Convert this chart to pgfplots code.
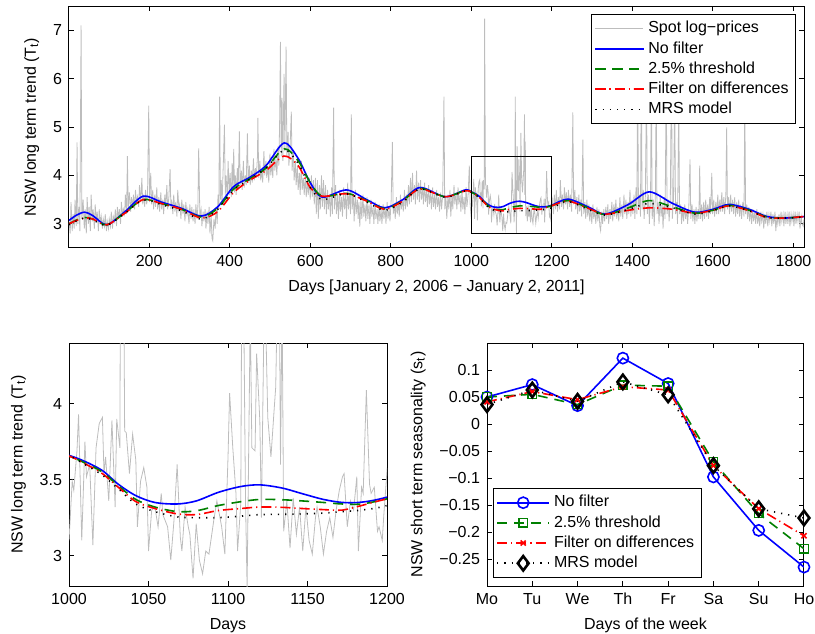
\documentclass[border=0pt]{standalone}
\usepackage{fontspec}
\setmainfont{Liberation Sans}
\usepackage{pgfplots}
\pgfplotsset{compat=1.18}
\usepackage{pgfplotstable}

\definecolor{mblue}{rgb}{0,0,1}
\definecolor{mgreen}{rgb}{0,0.5,0}
\definecolor{mred}{rgb}{1,0,0}
\definecolor{sgray}{rgb}{0.74,0.74,0.74}

% spot log-prices (sampled), days 1..1826
\pgfplotstableread[row sep=\\]{
x y\\
1 3.05\\ 4 2.80\\ 6 3.45\\ 9 2.85\\ 11 3.20\\ 14 2.90\\ 16 3.50\\ 19 2.95\\ 21 4.68\\ 23 3.00\\
26 3.35\\ 28 2.85\\ 31 7.10\\ 33 3.10\\ 36 3.50\\ 39 2.90\\ 41 3.30\\ 44 2.80\\ 46 3.55\\ 49 3.00\\
51 3.35\\ 54 2.85\\ 56 3.60\\ 59 3.05\\ 61 3.30\\ 64 2.90\\ 66 3.40\\ 69 3.05\\ 71 3.25\\ 74 2.85\\
76 3.30\\ 79 3.00\\ 81 3.15\\ 84 2.90\\ 86 3.10\\ 89 2.95\\ 91 3.20\\ 94 2.85\\ 96 3.05\\ 99 2.90\\
101 3.10\\ 104 2.95\\ 106 3.25\\ 109 2.90\\ 111 3.15\\ 114 3.05\\ 116 3.30\\ 119 2.95\\ 121 3.35\\ 124 3.10\\
126 3.30\\ 129 3.00\\ 131 3.45\\ 134 3.15\\ 136 3.30\\ 139 3.20\\ 141 3.60\\ 144 3.20\\ 146 4.40\\ 148 3.30\\
151 3.65\\ 154 3.25\\ 156 3.55\\ 159 3.35\\ 161 3.60\\ 164 3.30\\ 166 3.70\\ 169 3.40\\ 171 3.55\\ 174 3.35\\
176 3.80\\ 179 3.45\\ 182 3.95\\ 184 3.40\\ 186 3.60\\ 189 3.35\\ 191 3.70\\ 194 3.40\\ 196 3.60\\ 199 5.44\\
201 3.45\\ 204 4.05\\ 206 3.40\\ 209 3.70\\ 211 3.30\\ 214 3.60\\ 216 3.35\\ 219 3.75\\ 221 3.30\\ 224 3.55\\
226 3.25\\ 229 3.65\\ 231 3.30\\ 234 3.50\\ 236 3.20\\ 239 3.60\\ 241 3.35\\ 244 3.80\\ 246 3.30\\ 249 3.55\\
252 4.13\\ 254 3.30\\ 256 3.50\\ 259 3.20\\ 261 3.60\\ 264 3.25\\ 266 3.45\\ 269 3.15\\ 271 3.70\\ 274 3.30\\
276 3.40\\ 279 3.10\\ 281 3.50\\ 284 3.20\\ 286 3.40\\ 289 3.05\\ 291 3.45\\ 294 3.20\\ 296 3.30\\ 299 3.00\\
301 3.40\\ 304 3.10\\ 306 3.35\\ 309 3.05\\ 311 3.30\\ 314 3.00\\ 316 3.40\\ 319 3.10\\ 321 3.35\\ 323 4.56\\
326 3.15\\ 329 3.30\\ 331 2.95\\ 334 3.25\\ 336 3.05\\ 339 3.30\\ 341 2.90\\ 344 3.25\\ 346 3.00\\ 349 3.35\\
351 2.80\\ 354 3.20\\ 356 2.70\\ 358 2.65\\ 361 3.10\\ 364 2.90\\ 366 3.35\\ 369 3.00\\ 371 3.60\\ 373 3.30\\
375 5.63\\ 377 3.50\\ 379 3.90\\ 381 3.40\\ 384 4.20\\ 387 5.05\\ 389 3.60\\ 391 4.00\\ 394 3.50\\ 396 4.30\\
399 3.60\\ 401 4.05\\ 404 3.55\\ 406 4.25\\ 408 3.70\\ 410 4.55\\ 412 3.65\\ 414 4.00\\ 416 3.60\\ 419 4.15\\
421 3.70\\ 424 4.91\\ 426 3.80\\ 429 4.10\\ 431 3.70\\ 434 4.30\\ 436 3.75\\ 439 4.00\\ 441 3.80\\ 444 4.87\\
446 3.85\\ 449 4.20\\ 451 3.80\\ 454 4.10\\ 456 3.85\\ 459 4.35\\ 461 3.90\\ 464 4.15\\ 466 3.95\\ 469 4.40\\
470 5.19\\ 472 3.95\\ 475 4.30\\ 477 3.90\\ 480 4.10\\ 482 3.85\\ 485 4.50\\ 487 4.00\\ 490 4.30\\ 492 3.95\\
495 4.20\\ 497 3.85\\ 500 4.45\\ 502 4.00\\ 505 4.25\\ 507 3.95\\ 510 4.55\\ 512 4.10\\ 515 4.35\\ 517 4.00\\
520 4.60\\ 522 4.20\\ 524 5.10\\ 526 6.76\\ 528 4.40\\ 530 5.60\\ 532 4.30\\ 535 6.10\\ 537 4.50\\ 540 6.66\\
542 4.40\\ 545 4.90\\ 547 4.20\\ 550 4.60\\ 553 5.32\\ 555 4.10\\ 558 4.50\\ 560 3.90\\ 563 4.30\\ 565 3.80\\
568 4.20\\ 570 3.70\\ 573 4.05\\ 575 3.60\\ 578 4.30\\ 580 3.70\\ 583 3.95\\ 585 3.60\\ 588 4.00\\ 590 3.55\\
593 3.90\\ 595 3.60\\ 598 3.95\\ 600 3.50\\ 603 4.00\\ 605 3.55\\ 608 3.90\\ 610 3.40\\ 613 3.95\\ 615 3.20\\
618 3.90\\ 620 3.10\\ 623 3.80\\ 625 3.30\\ 628 4.00\\ 630 3.35\\ 633 3.90\\ 635 3.30\\ 638 3.80\\ 640 3.20\\
643 3.70\\ 645 3.30\\ 648 3.60\\ 650 3.15\\ 653 3.75\\ 655 3.20\\ 658 5.40\\ 660 3.30\\ 663 3.80\\ 665 3.20\\
668 3.60\\ 670 3.10\\ 673 3.70\\ 675 3.25\\ 678 3.55\\ 680 3.15\\ 683 3.75\\ 685 3.30\\ 688 3.60\\ 690 3.10\\
693 3.85\\ 695 3.30\\ 698 3.65\\ 700 3.20\\ 702 5.26\\ 704 3.30\\ 707 3.60\\ 709 3.05\\ 712 3.70\\ 714 3.20\\
717 3.50\\ 719 3.10\\ 721 3.45\\ 723 2.94\\ 726 3.50\\ 728 3.10\\ 731 3.60\\ 733 3.15\\ 736 3.40\\ 738 3.05\\
741 3.55\\ 743 3.10\\ 746 3.40\\ 748 3.00\\ 751 3.50\\ 753 3.15\\ 756 3.35\\ 758 3.00\\ 761 3.45\\ 763 3.10\\
766 3.30\\ 768 3.00\\ 771 3.40\\ 773 3.05\\ 776 3.30\\ 778 3.00\\ 781 3.40\\ 783 3.10\\ 786 3.35\\ 788 3.00\\
791 3.45\\ 793 3.10\\ 796 3.30\\ 798 3.05\\ 801 3.50\\ 804 4.69\\ 806 3.20\\ 809 3.40\\ 811 3.10\\ 814 3.55\\
816 3.20\\ 819 3.45\\ 821 3.15\\ 824 3.60\\ 826 3.30\\ 829 3.50\\ 831 3.25\\ 834 3.70\\ 836 3.30\\ 839 3.60\\
841 3.35\\ 844 3.80\\ 846 3.40\\ 849 3.95\\ 851 3.45\\ 854 4.05\\ 856 3.50\\ 859 3.80\\ 861 3.40\\ 864 4.10\\
866 3.50\\ 869 3.85\\ 871 3.45\\ 874 3.90\\ 876 3.50\\ 879 3.75\\ 881 3.40\\ 884 3.85\\ 886 3.45\\ 889 3.70\\
891 3.35\\ 894 3.80\\ 896 3.40\\ 899 3.65\\ 901 3.30\\ 904 3.75\\ 906 3.35\\ 909 3.60\\ 911 3.30\\ 914 3.70\\
916 3.35\\ 919 3.55\\ 921 3.25\\ 924 3.65\\ 926 3.30\\ 929 3.60\\ 932 5.63\\ 934 3.30\\ 937 3.55\\ 939 3.10\\
942 3.60\\ 944 3.30\\ 947 3.70\\ 949 3.15\\ 952 3.60\\ 954 3.30\\ 957 3.80\\ 959 3.40\\ 962 3.65\\ 964 3.30\\
967 3.75\\ 969 3.40\\ 972 3.60\\ 974 3.25\\ 977 3.70\\ 979 3.30\\ 982 3.55\\ 984 3.20\\ 987 3.75\\ 989 3.35\\
992 3.60\\ 995 4.20\\ 997 3.40\\
1000 3.10\\ 1002 3.49\\ 1003 3.43\\ 1005 3.69\\ 1006 3.93\\ 1008 3.10\\ 1010 3.75\\ 1011 3.52\\ 1013 3.60\\ 1015 3.07\\
1017 3.71\\ 1019 3.87\\ 1021 3.91\\ 1022 3.54\\ 1023 3.65\\ 1025 3.36\\ 1027 3.89\\ 1029 3.32\\ 1030 3.90\\ 1032 3.71\\
1033 7.24\\ 1035 3.82\\ 1036 3.81\\ 1038 3.54\\ 1040 3.80\\ 1042 3.63\\ 1043 3.19\\ 1045 3.49\\ 1047 3.58\\ 1049 3.45\\
1050 3.03\\ 1052 3.30\\ 1054 3.32\\ 1056 3.19\\ 1058 3.41\\ 1059 3.27\\ 1062 3.19\\ 1064 2.97\\ 1066 3.23\\ 1068 3.60\\
1070 3.12\\ 1071 3.03\\ 1073 3.32\\ 1075 3.19\\ 1076 3.14\\ 1078 2.85\\ 1080 3.21\\ 1082 2.97\\ 1084 2.88\\ 1086 3.03\\
1088 3.01\\ 1091 3.23\\ 1093 3.36\\ 1096 3.19\\ 1098 3.01\\ 1100 3.65\\ 1101 4.07\\ 1103 3.71\\ 1105 3.41\\ 1106 3.03\\
1108 3.34\\ 1109 5.63\\ 1111 3.36\\ 1112 2.79\\ 1114 4.60\\ 1115 3.71\\ 1117 3.69\\ 1118 4.33\\ 1120 3.89\\ 1121 3.25\\
1123 4.88\\ 1125 3.91\\ 1127 3.65\\ 1129 3.96\\ 1130 4.11\\ 1132 5.26\\ 1133 3.60\\ 1134 4.70\\ 1135 3.16\\ 1137 3.36\\
1139 3.05\\ 1141 3.38\\ 1143 3.14\\ 1145 3.32\\ 1147 3.03\\ 1149 3.32\\ 1151 3.10\\ 1153 3.01\\ 1155 3.25\\ 1156 3.32\\
1158 3.19\\ 1160 3.01\\ 1162 3.16\\ 1164 3.25\\ 1166 3.12\\ 1168 3.30\\ 1170 3.43\\ 1172 3.52\\ 1173 3.54\\ 1175 3.19\\
1177 3.36\\ 1179 3.30\\ 1181 3.52\\ 1182 3.03\\ 1184 3.45\\ 1185 3.41\\ 1187 4.09\\ 1189 3.47\\ 1190 3.41\\ 1192 3.45\\
1194 3.16\\ 1195 3.19\\ 1197 3.10\\ 1198 3.27\\ 1200 3.56\\
1201 3.50\\ 1204 3.20\\ 1206 3.60\\ 1209 3.30\\ 1211 3.70\\ 1214 3.25\\ 1216 3.55\\ 1219 3.30\\ 1221 3.90\\ 1224 3.35\\
1226 3.60\\ 1229 3.30\\ 1231 3.75\\ 1234 3.40\\ 1236 3.65\\ 1239 3.30\\ 1241 3.70\\ 1244 3.35\\ 1246 3.60\\ 1249 3.25\\
1252 5.30\\ 1254 3.40\\ 1257 3.70\\ 1259 3.30\\ 1262 3.55\\ 1264 3.20\\ 1267 3.60\\ 1269 3.25\\ 1272 3.50\\ 1274 3.15\\
1277 4.74\\ 1279 3.20\\ 1282 3.45\\ 1284 3.10\\ 1287 3.50\\ 1289 3.15\\ 1292 3.40\\ 1294 3.05\\ 1297 3.35\\ 1299 3.00\\
1302 3.40\\ 1304 3.10\\ 1307 3.30\\ 1309 3.00\\ 1312 3.35\\ 1314 3.05\\ 1317 3.30\\ 1319 2.95\\ 1321 2.86\\ 1324 3.25\\
1326 3.00\\ 1329 3.30\\ 1331 3.05\\ 1334 3.35\\ 1336 3.10\\ 1339 3.40\\ 1341 3.00\\ 1344 3.30\\ 1346 3.10\\ 1349 3.45\\
1351 3.05\\ 1354 3.40\\ 1356 3.15\\ 1359 3.50\\ 1361 3.10\\ 1364 3.35\\ 1366 3.05\\ 1369 3.55\\ 1371 3.15\\ 1374 3.40\\
1376 3.10\\ 1379 3.60\\ 1381 3.20\\ 1384 3.50\\ 1386 3.10\\ 1389 3.45\\ 1391 3.20\\ 1394 3.70\\ 1396 3.15\\ 1399 3.50\\
1401 3.20\\ 1404 3.60\\ 1406 3.10\\ 1409 3.75\\ 1411 3.20\\ 1413 6.20\\ 1415 3.30\\ 1418 3.60\\ 1420 3.15\\ 1422 6.50\\
1424 3.30\\ 1427 3.70\\ 1429 3.10\\ 1432 3.50\\ 1435 5.90\\ 1437 3.20\\ 1440 3.60\\ 1442 3.00\\ 1445 3.55\\ 1447 6.30\\
1449 3.10\\ 1452 3.50\\ 1454 2.95\\ 1457 3.60\\ 1459 5.80\\ 1461 3.20\\ 1464 3.45\\ 1466 3.00\\ 1469 3.60\\ 1471 3.15\\
1474 3.40\\ 1476 2.90\\ 1479 3.55\\ 1481 3.10\\ 1484 6.00\\ 1486 3.20\\ 1489 3.50\\ 1491 3.05\\ 1494 3.45\\ 1497 6.40\\
1499 3.10\\ 1502 3.50\\ 1505 5.70\\ 1507 3.20\\ 1510 3.45\\ 1512 3.00\\ 1515 5.50\\ 1517 3.20\\ 1520 3.40\\ 1522 3.00\\
1525 3.35\\ 1527 3.05\\ 1530 3.40\\ 1532 3.10\\ 1535 3.30\\ 1537 3.00\\ 1540 3.35\\ 1543 4.33\\ 1545 3.10\\ 1548 3.40\\
1550 3.05\\ 1553 3.30\\ 1555 3.00\\ 1558 3.35\\ 1560 3.05\\ 1563 3.30\\ 1565 3.10\\ 1567 4.20\\ 1569 3.10\\ 1572 3.40\\
1574 3.05\\ 1577 3.45\\ 1579 3.10\\ 1582 3.50\\ 1584 3.15\\ 1587 3.40\\ 1589 3.10\\ 1592 3.55\\ 1594 3.20\\ 1597 4.05\\
1599 3.20\\ 1602 3.50\\ 1604 3.15\\ 1607 3.45\\ 1609 3.20\\ 1612 3.60\\ 1614 3.20\\ 1617 3.50\\ 1619 3.25\\ 1622 3.65\\
1624 3.25\\ 1627 3.55\\ 1629 3.20\\ 1632 3.60\\ 1634 4.99\\ 1636 3.30\\ 1639 3.55\\ 1641 3.20\\ 1644 3.60\\ 1646 3.25\\
1649 3.50\\ 1651 3.20\\ 1654 3.55\\ 1656 3.15\\ 1659 3.45\\ 1661 3.20\\ 1664 3.50\\ 1666 3.15\\ 1669 3.40\\ 1671 3.10\\
1674 3.45\\ 1677 3.15\\ 1679 5.60\\ 1681 3.20\\ 1684 3.40\\ 1686 3.10\\ 1689 3.35\\ 1691 3.05\\ 1694 3.30\\ 1696 3.00\\
1699 3.30\\ 1701 3.05\\ 1704 3.25\\ 1706 3.00\\ 1709 3.30\\ 1711 3.00\\ 1714 3.20\\ 1716 2.95\\ 1719 3.25\\ 1721 3.05\\
1724 3.20\\ 1726 2.90\\ 1729 3.20\\ 1731 3.00\\ 1734 3.25\\ 1736 2.95\\ 1739 3.20\\ 1741 3.05\\ 1744 3.25\\ 1746 2.95\\
1749 3.20\\ 1751 3.00\\ 1754 3.25\\ 1756 2.85\\ 1759 3.15\\ 1761 3.00\\ 1764 3.20\\ 1766 2.95\\ 1769 3.25\\ 1771 3.05\\
1774 3.20\\ 1776 2.95\\ 1779 3.25\\ 1781 3.00\\ 1784 3.20\\ 1786 3.00\\ 1789 3.25\\ 1791 2.95\\ 1794 3.20\\ 1796 3.05\\
1799 3.20\\ 1801 2.95\\ 1804 3.25\\ 1806 3.00\\ 1809 3.20\\ 1811 3.05\\ 1814 3.25\\ 1816 2.90\\ 1819 3.15\\ 1821 3.00\\
1824 2.95\\ 1826 3.10\\
}\spot

% long term trend estimates: nf = no filter, th = 2.5% threshold, df = filter on differences, mrs = MRS model
\pgfplotstableread[row sep=\\]{
x nf th df mrs\\
1 3.07 3.00 3.00 2.98\\
20 3.18 3.08 3.07 3.06\\
40 3.24 3.13 3.12 3.12\\
60 3.17 3.10 3.10 3.08\\
95 2.98 2.98 2.98 2.97\\
140 3.25 3.23 3.22 3.22\\
185 3.57 3.50 3.50 3.49\\
230 3.45 3.42 3.42 3.40\\
280 3.32 3.30 3.30 3.27\\
330 3.16 3.14 3.12 3.10\\
370 3.35 3.32 3.25 3.30\\
410 3.77 3.72 3.65 3.70\\
450 3.96 3.93 3.90 3.92\\
490 4.20 4.15 4.10 4.15\\
535 4.67 4.55 4.40 4.52\\
570 4.35 4.30 4.20 4.25\\
600 3.85 3.85 3.75 3.75\\
630 3.55 3.57 3.57 3.50\\
690 3.70 3.63 3.62 3.62\\
740 3.50 3.48 3.47 3.45\\
785 3.33 3.31 3.30 3.28\\
830 3.50 3.48 3.47 3.45\\
873 3.75 3.73 3.72 3.72\\
935 3.56 3.56 3.56 3.55\\
985 3.70 3.69 3.68 3.68\\
1000 3.66 3.655 3.655 3.655\\
1010 3.62 3.61 3.605 3.60\\
1021 3.56 3.55 3.54 3.53\\
1031 3.47 3.46 3.45 3.44\\
1042 3.395 3.37 3.356 3.34\\
1054 3.35 3.32 3.31 3.29\\
1068 3.34 3.29 3.275 3.255\\
1080 3.36 3.295 3.27 3.25\\
1094 3.417 3.33 3.297 3.25\\
1108 3.455 3.355 3.31 3.26\\
1120 3.466 3.37 3.32 3.27\\
1134 3.445 3.368 3.318 3.272\\
1147 3.407 3.36 3.31 3.275\\
1160 3.37 3.35 3.303 3.28\\
1172 3.35 3.34 3.30 3.29\\
1184 3.352 3.34 3.33 3.30\\
1200 3.385 3.374 3.374 3.33\\
1240 3.51 3.48 3.47 3.46\\
1290 3.35 3.33 3.32 3.30\\
1332 3.20 3.19 3.20 3.18\\
1390 3.40 3.33 3.28 3.30\\
1442 3.66 3.48 3.33 3.42\\
1500 3.42 3.35 3.30 3.33\\
1555 3.24 3.22 3.22 3.20\\
1600 3.30 3.28 3.28 3.27\\
1640 3.40 3.38 3.37 3.37\\
1690 3.30 3.28 3.27 3.27\\
1734 3.15 3.14 3.13 3.13\\
1780 3.12 3.12 3.12 3.12\\
1826 3.15 3.15 3.15 3.14\\
}\trend

% short term seasonality, Mo..Ho = 1..8
\pgfplotstableread[row sep=\\]{
x nf th df mrs\\
1 0.050 0.050 0.041 0.036\\
2 0.073 0.055 0.060 0.063\\
3 0.034 0.036 0.045 0.042\\
4 0.122 0.072 0.069 0.078\\
5 0.075 0.070 0.063 0.054\\
6 -0.098 -0.070 -0.077 -0.077\\
7 -0.197 -0.166 -0.157 -0.157\\
8 -0.265 -0.231 -0.207 -0.174\\
}\season

\pgfplotsset{
  mstyle/.style={
    scale only axis, anchor=south west,
    axis line style={line width=0.5pt},
    every tick/.style={black, line width=0.5pt},
    tick align=inside, tick pos=both, major tick length=2.5pt,
    font=\fontsize{8}{9.6}\selectfont,
    tick label style={font=\fontsize{8}{9.6}\selectfont},
    label style={font=\fontsize{8}{9.6}\selectfont},
    /pgf/number format/assume math mode=true,
    /pgf/number format/1000 sep={},
    legend style={font=\fontsize{8}{9.6}\selectfont, draw=black, fill=white, inner sep=1.5pt, row sep=-1.2pt},
    legend cell align=left,
  },
  nfline/.style={mblue, line width=0.8pt},
  thline/.style={mgreen, line width=0.8pt, dash pattern=on 5pt off 3.5pt},
  dfline/.style={mred, line width=0.8pt, dash pattern=on 5pt off 2pt on 0.6pt off 2pt},
  mrsline/.style={black, line width=0.8pt, dash pattern=on 0.6pt off 3pt},
}

\begin{document}
\begin{tikzpicture}
\useasboundingbox (0,0) rectangle (407.5pt,316.5pt);

% top: whole sample
\begin{axis}[mstyle,
  at={(34.5pt,192.5pt)}, width=367.5pt, height=121pt,
  xmin=1, xmax=1826, ymin=2.5, ymax=7.5,
  xtick={200,400,...,1800}, ytick={3,4,5,6,7},
  xlabel={Days [January 2, 2006 − January 2, 2011]},
  ylabel={NSW long term trend (T\textsubscript{t})},
  legend style={at={(0.989,0.967)}, anchor=north east},
  legend image code/.code={\draw[mark repeat=2,mark phase=2,#1] plot coordinates {(0pt,0pt)(12pt,0pt)(24pt,0pt)};},
]
\addplot[sgray, line width=0.4pt] table[x=x, y=y] {\spot};
\addlegendentry{Spot log−prices}
\addplot[nfline, smooth] table[x=x, y=nf] {\trend};
\addlegendentry{No filter}
\addplot[thline, smooth] table[x=x, y=th] {\trend};
\addlegendentry{2.5\% threshold}
\addplot[dfline, smooth] table[x=x, y=df] {\trend};
\addlegendentry{Filter on differences}
\addplot[mrsline, smooth] table[x=x, y=mrs] {\trend};
\addlegendentry{MRS model}
\addplot[black, line width=0.5pt, forget plot] coordinates {(1000,2.8) (1200,2.8) (1200,4.4) (1000,4.4) (1000,2.8)};
\end{axis}

% bottom left: zoom on days 1000-1200
\begin{axis}[mstyle,
  at={(34.5pt,23.5pt)}, width=159pt, height=121.5pt,
  xmin=1000, xmax=1200, ymin=2.8, ymax=4.4,
  xtick={1000,1050,...,1200}, ytick={3,3.5,4},
  xlabel={Days},
  ylabel={NSW long term trend (T\textsubscript{t})},
]
\addplot[sgray, line width=0.4pt] table[x=x, y=y] {\spot};
\addplot[nfline, smooth] table[x=x, y=nf] {\trend};
\addplot[thline, smooth] table[x=x, y=th] {\trend};
\addplot[dfline, smooth] table[x=x, y=df] {\trend};
\addplot[mrsline, smooth] table[x=x, y=mrs] {\trend};
\end{axis}

% bottom right: weekly seasonality
\begin{axis}[mstyle,
  at={(243.5pt,23.5pt)}, width=158.5pt, height=121.5pt,
  xmin=1, xmax=8, ymin=-0.3, ymax=0.15,
  xtick={1,...,8}, xticklabels={Mo,Tu,We,Th,Fr,Sa,Su,Ho},
  ytick={-0.25,-0.2,-0.15,-0.1,-0.05,0,0.05,0.1},
  yticklabels={−0.25,−0.2,−0.15,−0.1,−0.05,0,0.05,0.1},
  xlabel={Days of the week},
  ylabel={NSW short term seasonality (s\textsubscript{t})},
  legend style={at={(0.019,0.033)}, anchor=south west},
  legend image code/.code={\draw[mark repeat=2,mark phase=2,#1] plot coordinates {(0pt,0pt)(13pt,0pt)(26pt,0pt)};},
]
\addplot[nfline, mark=o, mark size=2.8pt, mark options={solid}] table[x=x, y=nf] {\season};
\addlegendentry{No filter}
\addplot[thline, mark=square, mark size=2.1pt, mark options={solid, line width=0.6pt}] table[x=x, y=th] {\season};
\addlegendentry{2.5\% threshold}
\addplot[dfline, mark=x, mark size=1.8pt, mark options={solid, line width=0.8pt}] table[x=x, y=df] {\season};
\addlegendentry{Filter on differences}
\addplot[mrsline, mark=diamond, mark size=3.6pt, mark options={solid, line width=1.3pt}] table[x=x, y=mrs] {\season};
\addlegendentry{MRS model}
\end{axis}
\end{tikzpicture}
\end{document}
